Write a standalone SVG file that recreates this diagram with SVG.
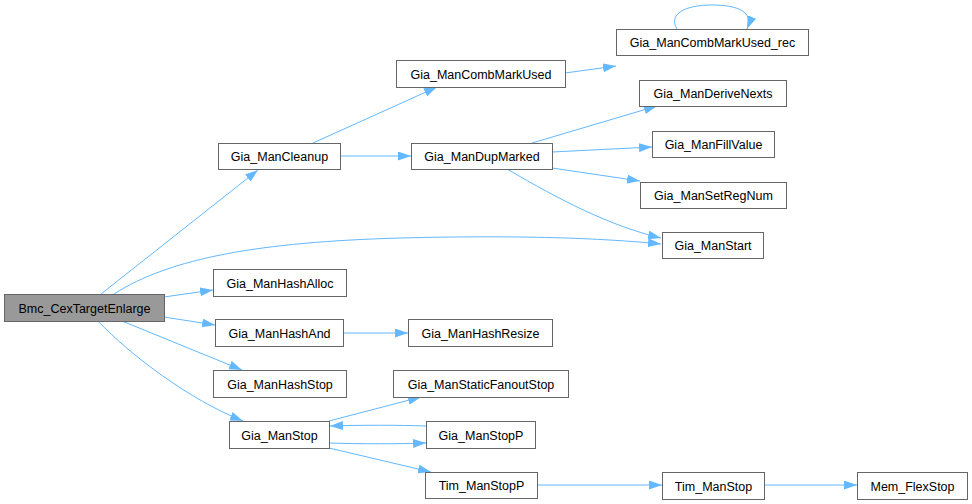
<svg xmlns="http://www.w3.org/2000/svg" width="972" height="504" viewBox="0 0 972 504">
<style>
.n rect{fill:#ffffff;stroke:#666666;stroke-width:1}
.n text{font-family:"Liberation Sans",Arial,sans-serif;font-size:12.5px;fill:#000000;text-anchor:middle}
#bmc rect{fill:#999999}
.e path{fill:none;stroke:#63b8ff;stroke-width:1;marker-end:url(#a)}
</style>
<defs>
<marker id="a" viewBox="0 0 13 9" refX="13" refY="4.5" markerWidth="13" markerHeight="9" orient="auto" markerUnits="userSpaceOnUse"><path d="M0,0 L13,4.5 L0,9 z" fill="#63b8ff"/></marker>
</defs>
<rect width="972" height="504" fill="#ffffff"/>
<g id="edges" class="e">
<path d="M101,294 L258,170"/>
<path d="M114,294 C170,258 260,242 400,238 C520,235 600,238 661,244"/>
<path d="M164,297 L213,290"/>
<path d="M164,317 L215,325"/>
<path d="M122,321 L242,370"/>
<path d="M98,321 C130,355 190,400 243,421"/>
<path d="M313,143 L437,87"/>
<path d="M340,156 L411,156"/>
<path d="M565,73 L616,66"/>
<path d="M677,29 C668,14 685,5 712,5 C738,5 754,12 747,29"/>
<path d="M532,143 L657,106"/>
<path d="M552,152 L652,147"/>
<path d="M552,168 L640,181"/>
<path d="M507,169 C560,200 610,226 661,238"/>
<path d="M343,333 L408,333"/>
<path d="M329,421 L421,397"/>
<path d="M426,426 C400,425 360,425 330,426"/>
<path d="M329,443 C360,444 400,444 426,443"/>
<path d="M329,448 L431,472"/>
<path d="M537,485 L662,485"/>
<path d="M764,485 L857,485"/>
</g>
<g id="bmc" class="n"><rect x="4.5" y="294.5" width="160" height="27"/><text x="84.5" y="312.5">Bmc_CexTargetEnlarge</text></g>
<g id="cleanup" class="n"><rect x="218.5" y="143.5" width="122" height="26"/><text x="279.5" y="161">Gia_ManCleanup</text></g>
<g id="dupmarked" class="n"><rect x="411.5" y="143.5" width="141" height="26"/><text x="482" y="161">Gia_ManDupMarked</text></g>
<g id="combmarkused" class="n"><rect x="396.5" y="60.5" width="169" height="27"/><text x="481" y="78.5">Gia_ManCombMarkUsed</text></g>
<g id="combmarkusedrec" class="n"><rect x="616.5" y="29.5" width="192" height="26"/><text x="712.5" y="47">Gia_ManCombMarkUsed_rec</text></g>
<g id="derivenexts" class="n"><rect x="639.5" y="80.5" width="147" height="26"/><text x="713" y="98">Gia_ManDeriveNexts</text></g>
<g id="fillvalue" class="n"><rect x="652.5" y="131.5" width="122" height="26"/><text x="713.5" y="149">Gia_ManFillValue</text></g>
<g id="setregnum" class="n"><rect x="640.5" y="182.5" width="146" height="26"/><text x="713.5" y="200">Gia_ManSetRegNum</text></g>
<g id="start" class="n"><rect x="662.5" y="232.5" width="101" height="26"/><text x="713" y="250">Gia_ManStart</text></g>
<g id="hashalloc" class="n"><rect x="213.5" y="269.5" width="133" height="27"/><text x="280" y="287.5">Gia_ManHashAlloc</text></g>
<g id="hashand" class="n"><rect x="215.5" y="319.5" width="128" height="27"/><text x="279.5" y="337.5">Gia_ManHashAnd</text></g>
<g id="hashresize" class="n"><rect x="408.5" y="319.5" width="144" height="27"/><text x="480.5" y="337.5">Gia_ManHashResize</text></g>
<g id="hashstop" class="n"><rect x="213.5" y="370.5" width="133" height="27"/><text x="280" y="388.5">Gia_ManHashStop</text></g>
<g id="staticfanoutstop" class="n"><rect x="393.5" y="370.5" width="175" height="27"/><text x="481" y="388.5">Gia_ManStaticFanoutStop</text></g>
<g id="manstop" class="n"><rect x="229.5" y="421.5" width="100" height="27"/><text x="279.5" y="439.5">Gia_ManStop</text></g>
<g id="manstopp" class="n"><rect x="426.5" y="421.5" width="109" height="27"/><text x="481" y="439.5">Gia_ManStopP</text></g>
<g id="timmanstopp" class="n"><rect x="425.5" y="472.5" width="112" height="26"/><text x="481.5" y="490">Tim_ManStopP</text></g>
<g id="timmanstop" class="n"><rect x="662.5" y="472.5" width="102" height="27"/><text x="713.5" y="490.5">Tim_ManStop</text></g>
<g id="memflexstop" class="n"><rect x="857.5" y="472.5" width="110" height="27"/><text x="912.5" y="490.5">Mem_FlexStop</text></g>
</svg>
